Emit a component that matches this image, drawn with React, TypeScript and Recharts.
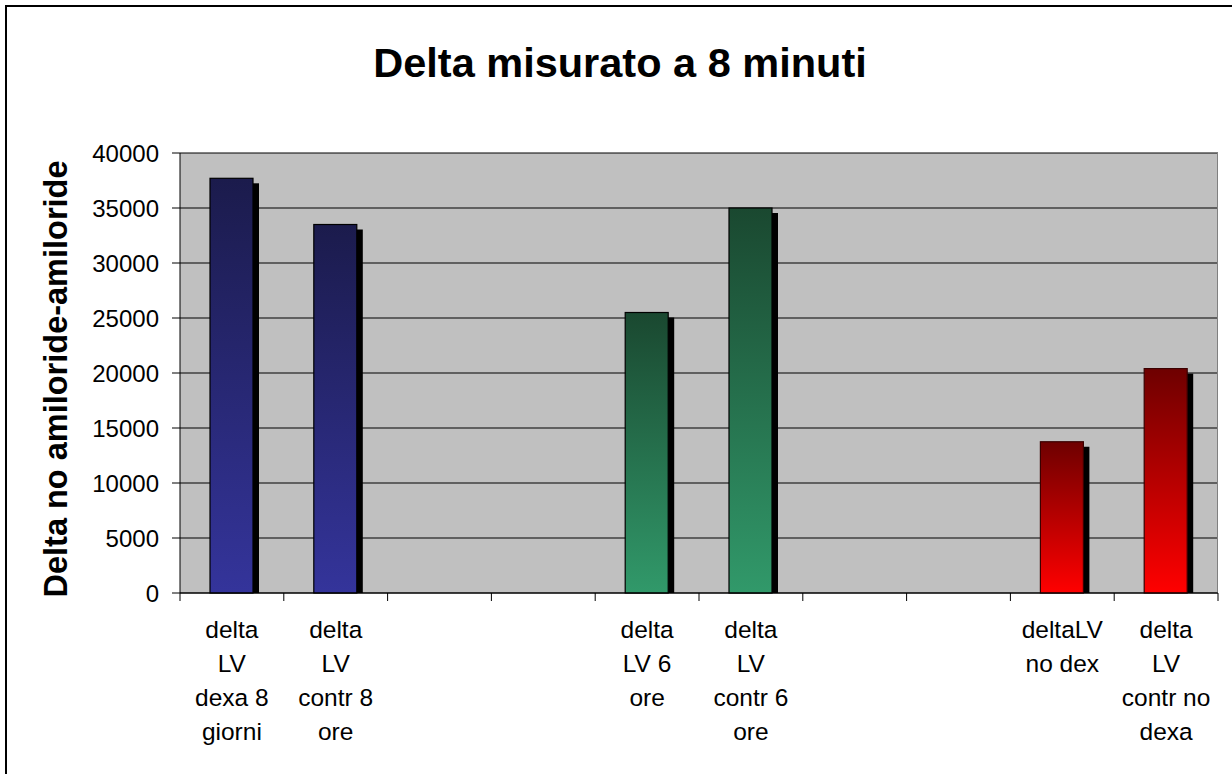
import { BarChart, Bar, XAxis, YAxis, CartesianGrid, Cell, Label } from 'recharts';

const title = 'Delta misurato a 8 minuti';
const yTitle = 'Delta no amiloride-amiloride';

const categories = [
  'delta\nLV\ndexa 8\ngiorni',
  'delta\nLV\ncontr 8\nore',
  '',
  '',
  'delta\nLV 6\nore',
  'delta\nLV\ncontr 6\nore',
  '',
  '',
  'deltaLV\nno dex',
  'delta\nLV\ncontr no\ndexa',
];

const values: (number | null)[] = [37700, 33500, null, null, 25500, 35000, null, null, 13750, 20400];

const yTicks = [0, 5000, 10000, 15000, 20000, 25000, 30000, 35000, 40000];

const data = categories.map((label, i) => ({ id: i, label, value: values[i] }));

const FONT = '"Liberation Sans", Arial, sans-serif';
const gradIds = ['gBlue', 'gGreen', 'gRed'];
const strokes = ['#000', '#000', '#3a0000'];

function ShadowBar(props: any) {
  const { x, y, width, height, fill, stroke } = props;
  if (!height || height <= 0) return null;
  return (
    <g>
      <rect x={x + 6} y={y + 5} width={width} height={Math.max(0, height - 5)} fill="#000" />
      <rect x={x} y={y} width={width} height={height} fill={fill} stroke={stroke} strokeWidth={1.2} />
    </g>
  );
}

function CategoryTick(props: any) {
  const { x, y, payload, index, visibleTicksCount } = props;
  const half = payload?.offset ?? 51.9;
  const lines = String(categories[payload.value] ?? '').split('\n').filter((l) => l);
  const isLast = index === (visibleTicksCount ?? categories.length) - 1;
  return (
    <g>
      <line x1={x - half} x2={x - half} y1={y} y2={y + 8} stroke="#000" />
      {isLast && <line x1={x + half} x2={x + half} y1={y} y2={y + 8} stroke="#000" />}
      <text x={x} y={y + 45} textAnchor="middle" fill="#000" fontSize={24.5} fontFamily={FONT}>
        {lines.map((l, k) => (
          <tspan key={k} x={x} dy={k === 0 ? 0 : 34}>
            {l}
          </tspan>
        ))}
      </text>
    </g>
  );
}

function YTitle(props: any) {
  const vb = props.viewBox || { x: 0, y: 153, width: 180, height: 440 };
  const cx = vb.x + 67;
  const cy = vb.y + vb.height / 2 + 6;
  return (
    <text
      x={cx}
      y={cy}
      transform={`rotate(-90, ${cx}, ${cy})`}
      textAnchor="middle"
      fontSize={32.5}
      fontWeight="bold"
      fontFamily={FONT}
      fill="#000"
    >
      {yTitle}
    </text>
  );
}

export default function App() {
  return (
    <div
      style={{
        position: 'absolute',
        left: 0,
        top: 0,
        width: 1232,
        height: 774,
        background: '#fff',
        overflow: 'hidden',
      }}
    >
      <div
        style={{
          position: 'absolute',
          left: 5,
          top: 5,
          width: 1240,
          height: 780,
          borderLeft: '2px solid #000',
          borderTop: '2px solid #000',
        }}
      />
      <svg width={1232} height={120} style={{ position: 'absolute', left: 0, top: 0 }}>
        <text x={620} y={77} textAnchor="middle" fontSize={41.5} fontWeight="bold" fontFamily={FONT} fill="#000">
          {title}
        </text>
      </svg>
      <div style={{ position: 'absolute', left: 0, top: 0 }}>
        <BarChart width={1232} height={774} data={data} margin={{ top: 153, right: 14, left: 0, bottom: 0 }}>
          <defs>
            <linearGradient id="gBlue" x1="0" y1="0" x2="0" y2="1">
              <stop offset="0%" stopColor="#1b1b4c" />
              <stop offset="100%" stopColor="#34349b" />
            </linearGradient>
            <linearGradient id="gGreen" x1="0" y1="0" x2="0" y2="1">
              <stop offset="0%" stopColor="#1a4830" />
              <stop offset="100%" stopColor="#31996a" />
            </linearGradient>
            <linearGradient id="gRed" x1="0" y1="0" x2="0" y2="1">
              <stop offset="0%" stopColor="#6e0000" />
              <stop offset="100%" stopColor="#ff0000" />
            </linearGradient>
          </defs>
          <CartesianGrid fill="#c0c0c0" stroke="#000" vertical={false} />
          <CartesianGrid horizontal={false} verticalPoints={[1217.5]} stroke="#808080" />
          <XAxis
            dataKey="id"
            type="category"
            interval={0}
            height={181}
            tickSize={0}
            tickMargin={0}
            tickLine={false}
            axisLine={{ stroke: '#000' }}
            tick={<CategoryTick />}
          />
          <YAxis
            width={180}
            domain={[0, 40000]}
            ticks={yTicks}
            interval={0}
            tickSize={8}
            tickMargin={13}
            axisLine={{ stroke: '#000' }}
            tickLine={{ stroke: '#000' }}
            tick={{ fill: '#000', fontSize: 24, fontFamily: FONT }}
          >
            <Label content={<YTitle />} />
          </YAxis>
          <Bar dataKey="value" barSize={43} shape={<ShadowBar />} isAnimationActive={false}>
            {data.map((d, i) => (
              <Cell key={d.id} fill={`url(#${gradIds[Math.floor(i / 4)]})`} stroke={strokes[Math.floor(i / 4)]} />
            ))}
          </Bar>
        </BarChart>
      </div>
    </div>
  );
}
